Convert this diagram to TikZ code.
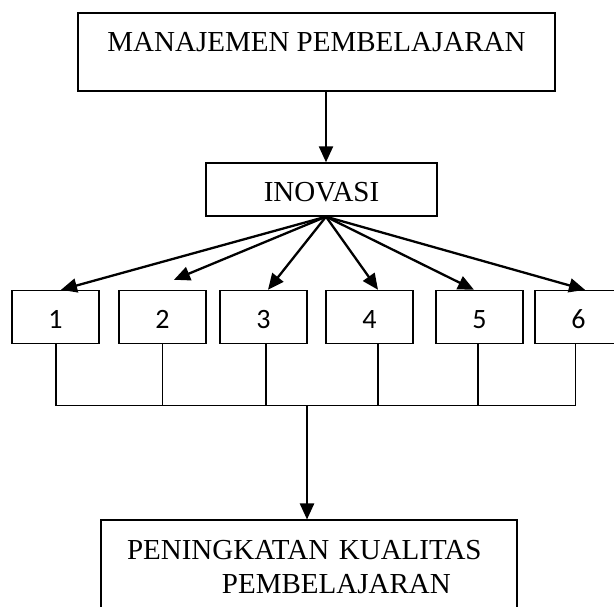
\documentclass[tikz,border=0pt]{standalone}
\usepackage{fontspec}
\setmainfont{Liberation Serif}
\newfontfamily\numfont{Carlito}
\usetikzlibrary{positioning}
\usetikzlibrary{calc}
\usetikzlibrary{arrows.meta}

\tikzset{
    blok/.style={draw, line width=1.4pt, inner sep=0pt,
        font=\fontsize{29}{34}\selectfont},
    nomor/.style={draw, line width=1.4pt, inner sep=0pt,
        minimum width=87pt, minimum height=53pt,
        text height=24pt, text depth=0pt,
        font=\numfont\fontsize{28}{34}\selectfont},
    panah/.style={line width=2.3pt, -{Triangle[length=16pt, width=14pt]}},
    garis/.style={line width=1.4pt, line cap=rect},
}

\begin{document}
\begin{tikzpicture}[x=1pt, y=1pt]
    \newcommand\barisnomor{289}
\newcommand\barisrel{200.5}

\useasboundingbox (0, 0) rectangle (614, 606);

\node[blok, minimum width=477pt, text height=39pt, text depth=39pt]
    (manajemen) at (316.5, 554) {MANAJEMEN PEMBELAJARAN};

\node[blok, minimum width=231pt, text height=39pt, text depth=14pt]
    (inovasi) at (321.5, 416.5) {INOVASI};

\coordinate (hub) at ([xshift=4.5pt]inovasi.south);
\coordinate (rel) at (0, \barisrel);
\coordinate (tengah) at (307, \barisrel);

\draw[panah] (hub |- manajemen.south) -- (hub |- inovasi.north);

\foreach \n/\cx/\tip/\gap/\leg in
    {1/55.5/5.5/0/0.5, 2/162.5/11.5/10/0, 3/263.5/4.5/0/2.5,
     4/369.5/8.5/0/8.5, 5/479.5/-5.5/0/-1.5, 6/578.5/6.5/0/-3} {
    \node[nomor] (n\n) at (\cx, \barisnomor) {\n};
    \draw[panah] (hub) -- ([shift={(\tip, \gap)}]n\n.north);
    \coordinate (kaki\n) at ([xshift=\leg pt]n\n.south);
    \draw[garis] (kaki\n) -- (kaki\n |- rel);
}

\draw[garis] (kaki1 |- rel) -- (kaki6 |- rel);

\node[blok, anchor=north, text width=364pt, inner xsep=26pt,
    inner ysep=20.5pt, align=left]
    (hasil) at (309, 86.5)
    {PENINGKATAN KUALITAS\\\hspace*{95pt}PEMBELAJARAN};

    \draw[panah] (tengah) -- (tengah |- hasil.north);
\end{tikzpicture}
\end{document}
